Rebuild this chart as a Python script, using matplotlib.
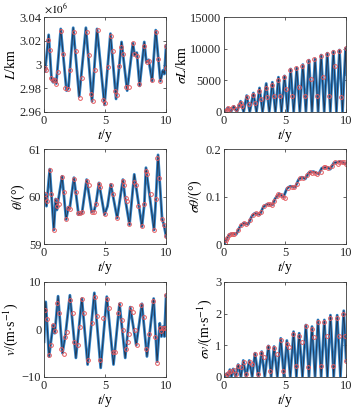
import numpy as np
import matplotlib
matplotlib.use('Agg')
import matplotlib.pyplot as plt

plt.rcParams['font.family'] = ['Liberation Serif', 'DejaVu Serif']
plt.rcParams['mathtext.fontset'] = 'stix'
plt.rcParams['font.size'] = 8.5

# ---- L (x 1e6 km) : extrema ----
L_t = [0, 0.08, 0.38, 0.62, 0.75, 0.85, 1.0, 1.37, 1.84, 2.0, 2.39, 2.88, 3.43, 3.93,
       4.34, 4.95, 5.44, 5.9, 6.35, 6.81, 7.28, 7.42, 7.6, 7.83, 8.21, 8.38, 8.57,
       8.85, 9.15, 9.53, 9.73, 9.86, 10]
L_v = [2.997, 2.994, 3.025, 2.987, 2.985, 2.988, 2.984, 3.030, 2.978, 2.980, 3.031,
       2.973, 3.031, 2.969, 3.030, 2.966, 3.026, 2.971, 3.019, 2.978, 3.018, 3.008,
       3.010, 2.982, 3.019, 3.002, 3.004, 2.986, 3.029, 2.986, 2.995, 2.992, 3.016]
L_mt = [0.05, 0.15, 0.33, 0.47, 0.6, 0.75, 0.88, 1.0, 1.15, 1.4, 1.55, 1.75, 1.95, 2.15,
        2.45, 2.6, 2.93, 3.1, 3.5, 3.65, 3.83, 3.98, 4.2, 4.45, 4.8, 5.03, 5.25, 5.47,
        5.65, 5.78, 5.95, 6.1, 6.3, 6.45, 6.75, 6.95, 7.25, 7.4, 7.6, 7.78, 8.15, 8.4,
        8.6, 8.88, 9.2, 9.35, 9.53, 9.95, 10]
L_mv = [2.997, 2.995, 3.021, 3.012, 2.989, 2.987, 2.987, 2.984, 2.994, 3.028, 3.009,
        2.980, 2.979, 2.995, 3.027, 3.011, 2.972, 2.989, 3.027, 3.008, 2.975, 2.969,
        2.995, 3.029, 2.970, 2.968, 2.998, 3.024, 3.011, 2.978, 2.974, 2.999, 3.015,
        3.009, 2.981, 2.981, 3.018, 3.009, 3.007, 2.984, 3.016, 3.002, 3.003, 2.987,
        3.027, 3.005, 2.986, 2.997, 3.016]

# ---- sigma L (km) ----
sL_t = [0, 0.3, 0.55, 0.8, 1.05, 1.35, 1.6, 1.85, 2.1, 2.4, 2.65, 2.9, 3.15, 3.45, 3.7,
        3.95, 4.2, 4.45, 4.7, 4.95, 5.2, 5.45, 5.7, 5.95, 6.2, 6.45, 6.7, 6.95, 7.2,
        7.45, 7.7, 7.95, 8.2, 8.45, 8.7, 8.95, 9.2, 9.45, 9.7, 9.95, 10]
sL_v = [0, 650, 0, 900, 0, 1700, 0, 2600, 0, 3000, 0, 3800, 0, 4500, 0, 4700, 0, 5500,
        0, 5700, 0, 6800, 0, 7000, 0, 7500, 0, 8200, 0, 8400, 0, 9000, 0, 9300, 0,
        9600, 0, 9800, 0, 10100, 6000]
sL_mt = [0.05, 0.2, 0.35, 0.5, 0.75, 0.95, 1.25, 1.4, 1.5, 1.9, 2.0, 2.35, 2.55, 2.85,
         3.05, 3.4, 3.55, 3.9, 4.1, 4.4, 4.6, 4.9, 5.1, 5.4, 5.6, 5.9, 6.1, 6.4, 6.6,
         6.9, 7.1, 7.4, 7.6, 7.9, 8.1, 8.4, 8.6, 8.9, 9.1, 9.4, 9.6, 9.95]
sL_mv = [100, 350, 600, 450, 800, 550, 1100, 1500, 900, 2300, 1200, 2700, 1500, 3300,
         2000, 3800, 2300, 4200, 2500, 5100, 2500, 5500, 3600, 6700, 2500, 6900, 4000,
         7300, 2500, 8100, 5200, 8300, 2500, 8900, 5600, 9200, 2500, 9500, 7200, 9700,
         2400, 10100]

# ---- theta (deg) ----
th_t = [0, 0.05, 0.12, 0.2, 0.47, 0.8, 0.95, 1.05, 1.15, 1.48, 1.81, 2.0, 2.1, 2.45,
        2.83, 3.0, 3.1, 3.49, 3.9, 4.1, 4.25, 4.5, 4.95, 5.2, 5.47, 5.99, 6.46, 6.65,
        7.0, 7.39, 8.02, 8.22, 8.35, 9.01, 9.15, 9.34, 9.67, 9.82, 10]
th_v = [60.08, 60.05, 60.0, 59.8, 60.58, 59.30, 59.95, 59.72, 59.9, 60.43, 59.52,
        59.78, 59.75, 60.40, 59.62, 59.66, 59.64, 60.36, 59.68, 59.70, 59.85, 60.29,
        59.62, 59.8, 60.26, 59.55, 60.36, 59.95, 59.41, 60.47, 59.37, 59.85, 60.61,
        59.30, 59.9, 60.88, 59.53, 59.41, 59.16]
th_mt = [0.05, 0.12, 0.25, 0.47, 0.6, 0.8, 0.98, 1.08, 1.2, 1.48, 1.62, 1.81, 1.98,
         2.15, 2.45, 2.65, 2.75, 2.95, 3.1, 3.49, 3.65, 3.95, 4.1, 4.28, 4.5, 4.62,
         4.98, 5.47, 5.65, 5.99, 6.46, 6.58, 6.7, 6.83, 7.0, 7.35, 7.5, 7.72, 8.02,
         8.2, 8.35, 8.47, 8.75, 9.01, 9.15, 9.28, 9.45, 9.67, 9.8, 10]
th_mv = [60.05, 59.98, 59.9, 60.56, 60.05, 59.30, 59.92, 59.8, 59.85, 60.41, 60.1,
         59.52, 59.76, 59.75, 60.38, 60.1, 59.65, 59.66, 59.68, 60.34, 60.25, 59.68,
         59.68, 59.85, 60.27, 60.2, 59.64, 60.24, 60.05, 59.55, 60.33, 60.25, 59.97,
         59.9, 59.42, 60.3, 60.25, 59.8, 59.38, 59.85, 60.55, 60.48, 60.05, 59.3,
         59.95, 60.82, 60.4, 59.53, 59.41, 59.17]

# ---- sigma theta (deg) ----
sth_t = [0, 0.33, 0.47, 0.75, 1.0, 1.3, 1.57, 1.98, 2.25, 2.5, 2.94, 3.2, 3.5, 3.98,
         4.18, 4.53, 4.86, 5.14, 5.41, 5.82, 6.1, 6.37, 6.65, 6.92, 7.3, 7.75, 8.0,
         8.43, 8.7, 8.98, 9.53, 9.8, 10]
sth_v = [0, 0.016, 0.021, 0.022, 0.021, 0.037, 0.044, 0.042, 0.058, 0.065, 0.0625,
         0.078, 0.084, 0.083, 0.096, 0.106, 0.099, 0.117, 0.122, 0.12, 0.136, 0.141,
         0.1375, 0.150, 0.153, 0.148, 0.160, 0.162, 0.158, 0.171, 0.174, 0.171, 0.169]
sth_mt = [0.05, 0.15, 0.25, 0.4, 0.55, 0.7, 0.85, 1.15, 1.4, 1.65, 1.8, 2.1, 2.35,
          2.65, 2.8, 3.05, 3.3, 3.6, 3.75, 3.9, 4.1, 4.3, 4.45, 4.65, 4.8, 4.95, 5.25,
          5.55, 5.7, 5.95, 6.25, 6.5, 6.8, 7.05, 7.2, 7.45, 7.6, 7.9, 8.2, 8.3, 8.55,
          8.85, 9.1, 9.3, 9.45, 9.65, 9.85, 10]
sth_mv = [0.002, 0.008, 0.013, 0.019, 0.022, 0.021, 0.022, 0.029, 0.04, 0.044, 0.042,
          0.05, 0.062, 0.066, 0.063, 0.067, 0.08, 0.085, 0.084, 0.083, 0.091, 0.101,
          0.106, 0.104, 0.1, 0.098, 0.118, 0.121, 0.12, 0.127, 0.14, 0.14, 0.145,
          0.152, 0.15, 0.15, 0.147, 0.152, 0.162, 0.163, 0.16, 0.165, 0.172, 0.168,
          0.172, 0.174, 0.172, 0.169]

# ---- v (m/s) ----
v_t = [0, 0.14, 0.41, 0.74, 0.88, 1.15, 1.51, 1.75, 2.12, 2.61, 3.1, 3.57, 4.12, 4.64,
       5.14, 5.69, 6.18, 6.65, 7.06, 7.55, 8.02, 8.43, 8.98, 9.26, 9.48, 9.62, 9.75,
       9.86, 10]
v_v = [-2.6, 5.8, -5.7, 0.9, -0.8, 7.0, -5.0, -1.2, 7.2, -6.0, 6.5, -7.4, 7.7, -8.1,
       6.9, -7.4, 5.4, -6.0, 4.7, -3.3, 5.4, -5.7, 6.5, -6.8, 1.3, -1.5, 0.6, -1.5, 7.2]
v_mt = [0.08, 0.25, 0.4, 0.55, 0.76, 0.92, 1.08, 1.2, 1.42, 1.62, 1.75, 1.9, 2.15,
        2.35, 2.45, 2.75, 2.95, 3.1, 3.3, 3.6, 3.9, 4.15, 4.35, 4.6, 4.85, 5.15,
        5.3, 5.65, 5.8, 6.05, 6.2, 6.35, 6.45, 6.7, 6.85, 6.95, 7.1, 7.25, 7.45,
        7.65, 7.95, 8.15, 8.35, 8.6, 8.95, 9.1, 9.28, 9.48, 9.6, 9.75, 9.9, 10]
v_mv = [4.1, 2.1, -5.3, -3.2, 0.9, -0.4, 5.5, 3.4, -4.1, -5.1, -1.5, -0.5, 6.2, 3.4,
        -2.7, -3.2, 0.6, 6.5, 3.4, -6.5, 1.3, 6.9, 2.9, -6.4, 2.3, 6.5, 4.5, -4.8,
        -4.8, 3.4, 5.3, 2.0, -0.2, -4.2, -2.6, -0.9, 4.6, 3.7, -0.1, -3.3, 5.1, 2.7,
        -4.1, -1.0, 5.9, -1.5, -7.0, 0.2, -0.4, 0.3, 0.3, 7.2]

# ---- sigma v (m/s) ----
sv_t = [0, 0.2, 0.35, 0.47, 0.6, 0.74, 0.95, 1.15, 1.38, 1.57, 1.8, 2.06, 2.3, 2.53,
        2.8, 3.08, 3.33, 3.63, 3.85, 4.09, 4.36, 4.64, 4.9, 5.14, 5.42, 5.69, 5.92,
        6.15, 6.42, 6.7, 6.95, 7.2, 7.45, 7.69, 7.95, 8.21, 8.46, 8.71, 8.98, 9.26,
        9.53, 9.8, 10]
sv_v = [0, 0.1, 0.02, 0.23, 0.01, 0.25, 0, 0.39, 0, 0.52, 0, 0.52, 0, 0.75, 0, 0.80,
        0, 0.98, 0, 0.96, 0, 1.22, 0, 1.15, 0, 1.43, 0, 1.38, 0, 1.64, 0, 1.59, 0, 1.80,
        0, 1.80, 0, 1.95, 0, 1.95, 0, 2.09, 0.5]
sv_mt = [0.05, 0.2, 0.4, 0.6, 0.85, 1.0, 1.15, 1.35, 1.6, 1.8, 2.1, 2.3, 2.55, 2.75,
         3.05, 3.25, 3.6, 3.8, 4.1, 4.3, 4.65, 4.85, 5.15, 5.35, 5.65, 5.9, 6.15,
         6.35, 6.7, 6.9, 7.2, 7.4, 7.7, 7.9, 8.2, 8.4, 8.7, 8.9, 9.25, 9.45, 9.75,
         9.9, 10]
sv_mv = [0.02, 0.08, 0.15, 0.2, 0.22, 0.1, 0.33, 0.3, 0.48, 0.1, 0.48, 0.42, 0.72,
         0.1, 0.75, 0.62, 0.95, 0.2, 0.9, 0.73, 1.15, 0.2, 1.05, 0.95, 1.35, 0.35, 1.3,
         1.1, 1.6, 0.3, 1.5, 1.25, 1.75, 0.35, 1.75, 1.3, 1.85, 0.35, 1.85, 1.3, 2.0,
         1.3, 0.5]

panels = [
    (L_t, L_v, L_mt, L_mv, (2.96, 3.04), [2.96, 2.98, 3.0, 3.02, 3.04],
     ['2.96', '2.98', '3', '3.02', '3.04'], r'$L$/km'),
    (sL_t, sL_v, sL_mt, sL_mv, (0, 15000), [0, 5000, 10000, 15000],
     ['0', '5000', '10000', '15000'], r'$\sigma L$/km'),
    (th_t, th_v, th_mt, th_mv, (59, 61), [59, 60, 61], ['59', '60', '61'],
     r'$\theta$/(°)'),
    (sth_t, sth_v, sth_mt, sth_mv, (0, 0.2), [0, 0.1, 0.2], ['0', '0.1', '0.2'],
     r'$\sigma\theta$/(°)'),
    (v_t, v_v, v_mt, v_mv, (-10, 10), [-10, 0, 10], ['\u221210', '0', '10'],
     r'$v$/(m$\cdot$s$^{-1}$)'),
    (sv_t, sv_v, sv_mt, sv_mv, (0, 3), [0, 1, 2, 3], ['0', '1', '2', '3'],
     r'$\sigma v$/(m$\cdot$s$^{-1}$)'),
]

fig = plt.figure(figsize=(3.58, 4.11), dpi=100)
lefts = [0.123, 0.626]
bottoms = [0.7275, 0.406, 0.083]
for i, (t, v, mt, mv, ylim, yt, ytl, ylab) in enumerate(panels):
    ax = fig.add_axes([lefts[i % 2], bottoms[i // 2], 0.341, 0.231])
    ax.plot(t, v, color='#2f80c4', lw=2.0, solid_joinstyle='round')
    ax.plot(t, v, color='#23314a', lw=0.6)
    ax.plot(mt, mv, 'o', ms=2.7, mfc='none', mec='#e45a5f', mew=0.7)
    ax.set_xlim(0, 10)
    ax.set_ylim(*ylim)
    ax.set_xticks([0, 5, 10])
    ax.set_yticks(yt)
    ax.set_yticklabels(ytl)
    ax.set_xlabel(r'$t$/y', labelpad=0, fontsize=10)
    ax.set_ylabel(ylab, labelpad=1, fontsize=10)
    ax.tick_params(direction='in', top=True, right=True, length=2.5, width=0.5,
                   pad=2, colors='#262626', labelsize=9)
    for s in ax.spines.values():
        s.set_color('#3a3a3a')
        s.set_linewidth(0.6)
    if i == 0:
        ax.text(0.0, 1.01, r'$\times10^6$', transform=ax.transAxes, fontsize=8,
                ha='left', va='bottom')

fig.savefig('out.png', dpi=100)
